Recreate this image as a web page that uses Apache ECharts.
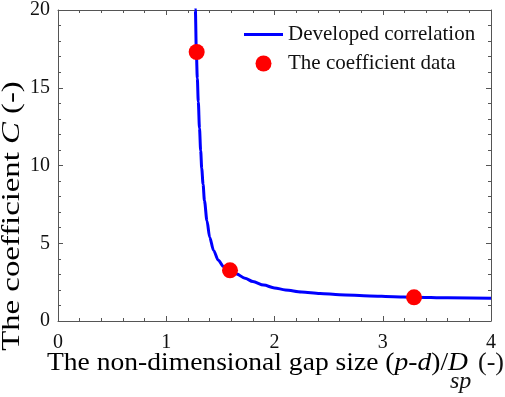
<!DOCTYPE html>
<html><head><meta charset="utf-8">
<script src="https://cdn.jsdelivr.net/npm/echarts@6/dist/echarts.min.js"></script>
<style>html,body{margin:0;padding:0;background:#fff}#c{width:505px;height:397px}</style>
</head><body><div id="c"></div>
<script>
// Developed correlation curve
const curveX = [1.265, 1.269, 1.278, 1.287, 1.296, 1.307, 1.318, 1.328, 1.340, 1.353, 1.376, 1.401, 1.437, 1.481, 1.53, 1.589, 1.65, 1.727, 1.80, 1.90, 2.00, 2.10, 2.25, 2.42, 2.60, 2.88, 3.10, 3.29, 3.60, 4.00];
const curveC = [21.3, 20.0, 17.3, 15.6, 14.1, 12.4, 10.95, 9.8, 8.8, 7.73, 6.45, 5.39, 4.54, 3.9, 3.5, 3.24, 3.02, 2.75, 2.54, 2.31, 2.13, 2.00, 1.87, 1.77, 1.69, 1.61, 1.56, 1.53, 1.49, 1.46];
// The coefficient data
const dataX = [1.281, 1.589, 3.289];
const dataC = [17.3, 3.26, 1.52];
const xTicks = [0, 1, 2, 3, 4];
const yTicks = [0, 5, 10, 15, 20];

const FONT = 'Liberation Serif';
const AX = '#555';
function axisCommon(showLabel, min, max, interval, margin) {
  return {
    min: min, max: max, interval: interval,
    axisLine: {show: true, onZero: false, lineStyle: {color: AX, width: 1}},
    axisTick: {show: true, inside: true, length: 5, lineStyle: {color: AX}},
    minorTick: {show: true, splitNumber: 5, length: 3, lineStyle: {color: AX}},
    splitLine: {show: false},
    axisLabel: {show: showLabel, fontFamily: FONT, fontSize: 20, color: '#111', margin: margin}
  };
}
const chart = echarts.init(document.getElementById('c'), null, {renderer: 'canvas'});
chart.setOption({
  animation: false,
  backgroundColor: '#fff',
  grid: {left: 58, right: 14, top: 8, bottom: 76},
  xAxis: [
    Object.assign({type: 'value', position: 'bottom'}, axisCommon(true, xTicks[0], xTicks[xTicks.length - 1], 1, 12)),
    Object.assign({type: 'value', position: 'top'}, axisCommon(false, xTicks[0], xTicks[xTicks.length - 1], 1, 8))
  ],
  yAxis: [
    Object.assign({type: 'value', position: 'left'}, axisCommon(true, yTicks[0], yTicks[yTicks.length - 1], 5, 8)),
    Object.assign({type: 'value', position: 'right'}, axisCommon(false, yTicks[0], yTicks[yTicks.length - 1], 5, 8))
  ],
  legend: {
    orient: 'vertical', left: 244, top: 24, padding: 0,
    itemWidth: 39, itemHeight: 16, itemGap: 8,
    textStyle: {fontFamily: FONT, fontSize: 21, color: '#111', lineHeight: 20},
    data: [
      {name: 'Developed correlation', icon: 'path://M0,0 L39,0 L39,3 L0,3 Z'},
      {name: 'The coefficient data', icon: 'circle'}
    ]
  },
  series: [
    {
      type: 'line', name: 'Developed correlation',
      data: curveX.map((x, i) => [x, curveC[i]]),
      symbol: 'none', smooth: 0.3, smoothMonotone: 'x', clip: true,
      lineStyle: {color: '#0000ff', width: 3}, itemStyle: {color: '#0000ff'}, z: 2
    },
    {
      type: 'scatter', name: 'The coefficient data',
      data: dataX.map((x, i) => [x, dataC[i]]),
      symbolSize: 16, itemStyle: {color: '#ff0000', opacity: 1}, z: 3
    }
  ],
  graphic: [
    {
      type: 'text', x: 47, y: 363, scaleX: 1.06,
      style: {
        text: '{n|The non-dimensional gap size (}{i|p}{n|-}{i|d}{n|)/}{i|D}',
        textAlign: 'left', textVerticalAlign: 'middle', align: 'left', verticalAlign: 'middle',
        rich: {
          n: {fontFamily: FONT, fontSize: 26, color: '#111'},
          i: {fontFamily: FONT, fontSize: 26, fontStyle: 'italic', color: '#111'}
        }
      }
    },
    {
      type: 'text', x: 450, y: 382,
      style: {
        text: 'sp', font: 'italic 24px "Liberation Serif"', fill: '#111',
        textAlign: 'left', textVerticalAlign: 'middle', align: 'left', verticalAlign: 'middle'
      }
    },
    {
      type: 'text', x: 504, y: 363,
      style: {
        text: '(-)', font: '26px "Liberation Serif"', fill: '#111',
        textAlign: 'right', textVerticalAlign: 'middle', align: 'right', verticalAlign: 'middle'
      }
    },
    {
      type: 'text', x: 12, y: 216, rotation: Math.PI / 2, scaleX: 1.26,
      style: {
        text: '{n|The coefficient }{i|C}{n| (-)}',
        textAlign: 'center', textVerticalAlign: 'middle', align: 'center', verticalAlign: 'middle',
        rich: {
          n: {fontFamily: FONT, fontSize: 26, color: '#111'},
          i: {fontFamily: FONT, fontSize: 26, fontStyle: 'italic', color: '#111'}
        }
      }
    }
  ]
});
</script>
</body></html>
